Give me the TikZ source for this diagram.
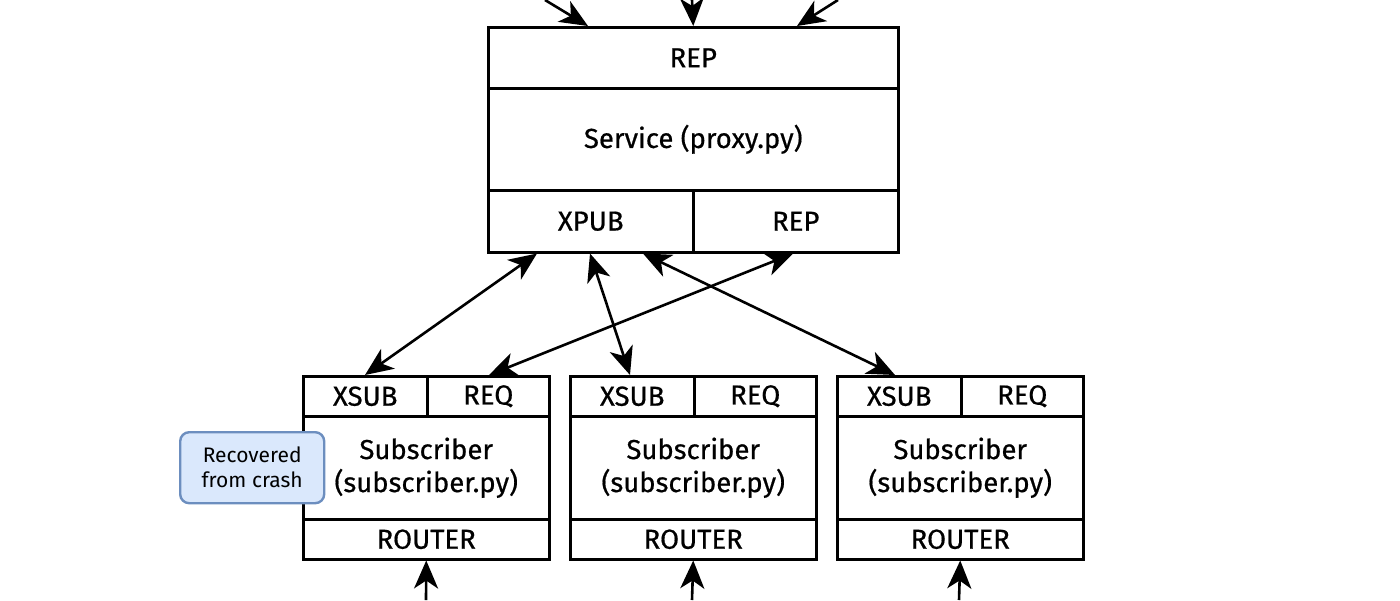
\documentclass[tikz,border=0pt]{standalone}
\usepackage{fontspec}
\setmainfont{Fira Sans}
\newfontfamily\cellfont{Fira Sans}[FakeBold=0.6]
\usetikzlibrary{arrows.meta,calc}
\definecolor{recfill}{HTML}{DAE8FC}
\definecolor{recdraw}{HTML}{6C8EBF}
\tikzset{
  cell/.style={draw=black, line width=2.5pt, anchor=north west, inner sep=0pt, align=center, font=\cellfont\fontsize{27.5}{33}\selectfont},
  conn/.style={line width=2.6pt, -{Stealth[length=28pt,width=24pt,inset=8pt]}},
  bconn/.style={line width=2.6pt, {Stealth[length=28pt,width=24pt,inset=8pt]}-{Stealth[length=28pt,width=24pt,inset=8pt]}},
  recbox/.style={draw=recdraw, fill=recfill, line width=2.4pt, rounded corners=9pt, anchor=north west, inner sep=0pt, align=center, font=\fontsize{21}{25}\selectfont}
}
\begin{document}
\begin{tikzpicture}[x=1pt,y=-1pt]
\useasboundingbox (0,0) rectangle (1400,600);
% service
\node[cell, minimum width=410pt, minimum height=61pt] (srep) at (487,26) {REP};
\node[cell, minimum width=410pt, minimum height=102pt] (svc) at (487,87) {Service (proxy.py)};
\node[cell, minimum width=205pt, minimum height=62pt] (sxpub) at (487,189) {XPUB};
\node[cell, minimum width=205pt, minimum height=62pt] (srep2) at (692,189) {REP};
% subscribers
\foreach \n/\x in {A/302,B/569,C/836}{
  \node[cell, minimum width=124pt, minimum height=40pt] (xsub\n) at (\x,375) {XSUB};
  \node[cell, minimum width=122pt, minimum height=40pt] (req\n) at (\x+124,375) {REQ};
  \node[cell, minimum width=246pt, minimum height=103pt] (body\n) at (\x,415) {Subscriber\\(subscriber.py)};
  \node[cell, minimum width=246pt, minimum height=40pt] (router\n) at (\x,518) {ROUTER};
}
\node[recbox, minimum width=144pt, minimum height=71pt] (rec) at (179,431) {Recovered\\from crash};
% top inputs
\coordinate (t1) at (545,0);
\coordinate (t2) at (692,0);
\coordinate (t3) at (838,0);
\draw[conn] (t1) -- ([xshift=101pt]srep.north west);
\draw[conn] (t2) -- (srep.north);
\draw[conn] (t3) -- ([xshift=310pt]srep.north west);
% bottom inputs
\foreach \n/\x in {A/426,B/692,C/959}{
  \coordinate (b\n) at (\x,600);
  \draw[conn] (b\n) -- (router\n.south);
}
% connections
\draw[bconn] ([xshift=50pt]sxpub.south west) -- ([xshift=63pt]xsubA.north west);
\draw[bconn] ([xshift=103pt]sxpub.south west) -- ([xshift=61pt]xsubB.north west);
\draw[bconn] ([xshift=156pt]sxpub.south west) -- ([xshift=59pt]xsubC.north west);
\draw[bconn] ([xshift=101pt]srep2.south west) -- ([xshift=63pt]reqA.north west);
\end{tikzpicture}
\end{document}
